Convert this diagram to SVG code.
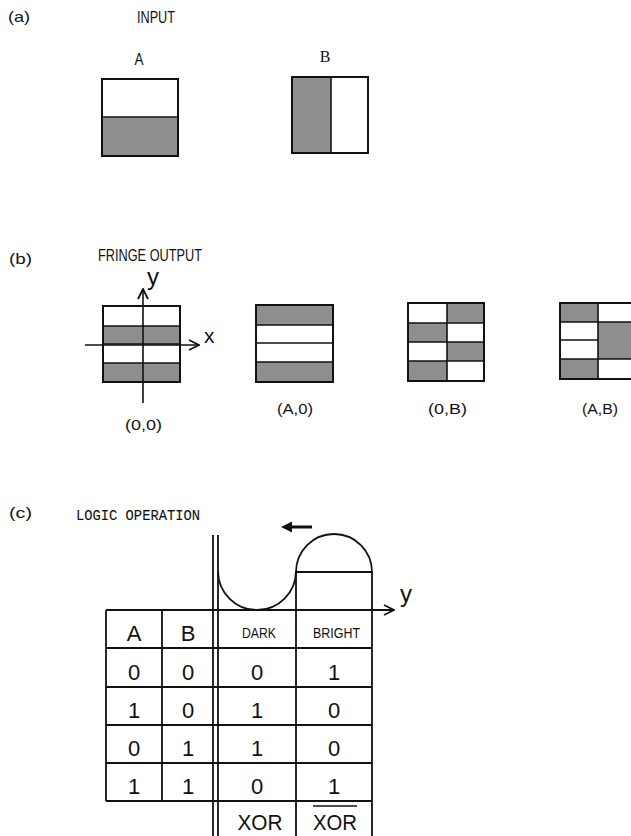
<svg xmlns="http://www.w3.org/2000/svg" width="631" height="836" viewBox="0 0 631 836">
<style>
.box{fill:none;stroke:#111;stroke-width:2}
.g{fill:#8e8e8e}
.ln{stroke:#111;stroke-width:1.6;fill:none}
.tl{stroke:#111;stroke-width:1.8;fill:none}
.mono{font-family:"Liberation Mono","DejaVu Sans Mono",monospace;fill:#111;stroke:#111;stroke-width:0.1}
.lab{font-family:"Liberation Sans",Arial,sans-serif;fill:#111}
.sans{font-family:"Liberation Sans",Arial,sans-serif;fill:#111}
.serif{font-family:"Liberation Serif","Times New Roman",serif;fill:#111}
.dig{font-family:"Liberation Sans",Arial,sans-serif;fill:#111;font-size:22px;text-anchor:middle}
</style>
<defs>
<marker id="open" viewBox="0 0 12 12" refX="11" refY="6" markerWidth="12" markerHeight="12" markerUnits="userSpaceOnUse" orient="auto">
<path d="M1,1 L11,6 L1,11" fill="none" stroke="#111" stroke-width="1.8"/>
</marker>
</defs>
<rect width="631" height="836" fill="#fff"/>

<!-- (a) -->
<g id="label-a">
<text class="lab" x="8" y="22" font-size="15" textLength="22" lengthAdjust="spacingAndGlyphs">(a)</text>
<text class="sans" x="137" y="23" font-size="17" textLength="38" lengthAdjust="spacingAndGlyphs">INPUT</text>
</g>
<g id="input-A">
<text class="sans" x="139" y="65" font-size="17" text-anchor="middle" textLength="9" lengthAdjust="spacingAndGlyphs">A</text>
<rect class="g" x="102" y="117" width="76" height="39"/>
<line class="ln" x1="102" y1="117" x2="178" y2="117"/>
<rect class="box" x="102" y="79" width="76" height="77"/>
</g>
<g id="input-B">
<text class="serif" x="325" y="62" font-size="16" text-anchor="middle">B</text>
<rect class="g" x="292" y="77" width="39" height="76"/>
<line class="ln" x1="331" y1="77" x2="331" y2="153"/>
<rect class="box" x="292" y="77" width="76" height="76"/>
</g>

<!-- (b) -->
<g id="label-b">
<text class="lab" x="9" y="264" font-size="15" textLength="23" lengthAdjust="spacingAndGlyphs">(b)</text>
<text class="sans" x="98" y="261" font-size="17" textLength="104" lengthAdjust="spacingAndGlyphs">FRINGE OUTPUT</text>
</g>
<g id="fringe-00">
<rect class="g" x="103" y="326" width="77" height="18"/>
<rect class="g" x="103" y="363" width="77" height="19"/>
<line class="ln" x1="103" y1="326" x2="180" y2="326"/>
<line class="ln" x1="103" y1="344" x2="180" y2="344"/>
<line class="ln" x1="103" y1="363" x2="180" y2="363"/>
<rect class="box" x="103" y="306" width="77" height="76"/>
<text class="sans" x="147" y="285" font-size="24">y</text>
<text class="sans" x="204" y="343" font-size="21">x</text>
<text class="lab" x="125" y="430" font-size="15" textLength="37" lengthAdjust="spacingAndGlyphs">(0,0)</text>
</g>
<g id="fringe-A0">
<rect class="g" x="256" y="305" width="77" height="20"/>
<rect class="g" x="256" y="362" width="77" height="20"/>
<line class="ln" x1="256" y1="325" x2="333" y2="325"/>
<line class="ln" x1="256" y1="343" x2="333" y2="343"/>
<line class="ln" x1="256" y1="362" x2="333" y2="362"/>
<rect class="box" x="256" y="305" width="77" height="77"/>
<text class="lab" x="277" y="414" font-size="15" textLength="36" lengthAdjust="spacingAndGlyphs">(A,0)</text>
</g>
<g id="fringe-0B">
<rect class="g" x="408" y="323" width="39" height="19"/>
<rect class="g" x="408" y="361" width="39" height="20"/>
<rect class="g" x="447" y="303" width="37" height="20"/>
<rect class="g" x="447" y="342" width="37" height="19"/>
<line class="ln" x1="408" y1="323" x2="484" y2="323"/>
<line class="ln" x1="408" y1="342" x2="484" y2="342"/>
<line class="ln" x1="408" y1="361" x2="484" y2="361"/>
<line class="ln" x1="447" y1="303" x2="447" y2="381"/>
<rect class="box" x="408" y="303" width="76" height="78"/>
<text class="lab" x="428" y="414" font-size="15" textLength="39" lengthAdjust="spacingAndGlyphs">(0,B)</text>
</g>
<g id="fringe-AB">
<rect class="g" x="560" y="303" width="38" height="19"/>
<rect class="g" x="560" y="359" width="38" height="20"/>
<rect class="g" x="598" y="322" width="39" height="37"/>
<line class="ln" x1="560" y1="322" x2="637" y2="322"/>
<line class="ln" x1="560" y1="340" x2="598" y2="340"/>
<line class="ln" x1="560" y1="359" x2="637" y2="359"/>
<line class="ln" x1="598" y1="303" x2="598" y2="379"/>
<rect class="box" x="560" y="303" width="77" height="76"/>
<text class="lab" x="582" y="414" font-size="15" textLength="36" lengthAdjust="spacingAndGlyphs">(A,B)</text>
</g>

<!-- (c) -->
<g id="label-c">
<text class="lab" x="9" y="518" font-size="15" textLength="23" lengthAdjust="spacingAndGlyphs">(c)</text>
<text class="mono" x="76" y="520" font-size="15" textLength="124" lengthAdjust="spacingAndGlyphs">LOGIC OPERATION</text>
</g>

<g id="table">
<line class="tl" x1="106" y1="648" x2="372" y2="648"/>
<line class="tl" x1="106" y1="687" x2="372" y2="687"/>
<line class="tl" x1="106" y1="725" x2="372" y2="725"/>
<line class="tl" x1="106" y1="763" x2="372" y2="763"/>
<line class="tl" x1="106" y1="801" x2="372" y2="801"/>
<line class="tl" x1="106" y1="610" x2="106" y2="801"/>
<line class="tl" x1="162" y1="610" x2="162" y2="801"/>
<line class="tl" x1="213" y1="535" x2="213" y2="836"/>
<line class="tl" x1="218" y1="535" x2="218" y2="836"/>
<line class="tl" x1="296" y1="572" x2="296" y2="836"/>
<line class="tl" x1="372" y1="572" x2="372" y2="836"/>
<path class="tl" d="M218,571 A39,39 0 0 0 296,571"/>
<path class="tl" d="M296,572 A38,38 0 0 1 372,572 Z"/>
<text class="dig" x="134" y="641">A</text>
<text class="dig" x="188" y="641">B</text>
<text class="sans" x="242" y="638" font-size="15" textLength="34" lengthAdjust="spacingAndGlyphs">DARK</text>
<text class="sans" x="313" y="638" font-size="15" textLength="47" lengthAdjust="spacingAndGlyphs">BRIGHT</text>
<text class="dig" x="134" y="680">0</text><text class="dig" x="188" y="680">0</text><text class="dig" x="257" y="680">0</text><text class="dig" x="334" y="680">1</text>
<text class="dig" x="134" y="718">1</text><text class="dig" x="188" y="718">0</text><text class="dig" x="257" y="718">1</text><text class="dig" x="334" y="718">0</text>
<text class="dig" x="134" y="756">0</text><text class="dig" x="188" y="756">1</text><text class="dig" x="257" y="756">1</text><text class="dig" x="334" y="756">0</text>
<text class="dig" x="134" y="794">1</text><text class="dig" x="188" y="794">1</text><text class="dig" x="257" y="794">0</text><text class="dig" x="334" y="794">1</text>
<text class="dig" x="260" y="830" textLength="45" lengthAdjust="spacingAndGlyphs">XOR</text>
<text class="dig" x="335" y="830" textLength="44" lengthAdjust="spacingAndGlyphs">XOR</text>
<line class="ln" x1="313" y1="806" x2="357" y2="806"/>
<text class="sans" x="400" y="602" font-size="24">y</text>
</g>

<g id="connectors">
<line class="ln" x1="143" y1="403" x2="143" y2="289" marker-end="url(#open)"/>
<line class="ln" x1="85" y1="345" x2="199" y2="345" marker-end="url(#open)"/>
<line class="tl" x1="106" y1="610" x2="394" y2="610" marker-end="url(#open)"/>
<line stroke="#111" stroke-width="3" x1="290" y1="527" x2="312" y2="527"/>
<polygon points="281,527 292,521.5 292,532.5" fill="#111"/>
</g>
</svg>
